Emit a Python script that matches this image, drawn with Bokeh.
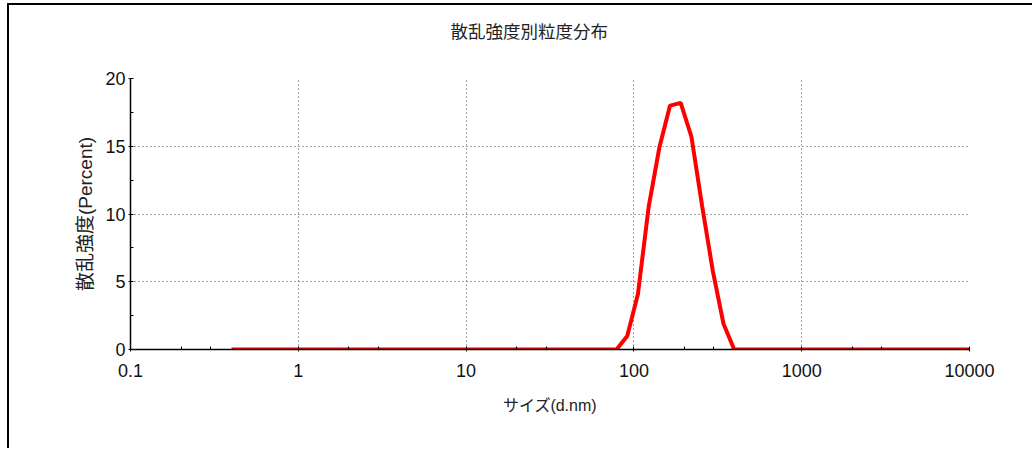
from bokeh.plotting import figure
from bokeh.models import FixedTicker, Range1d, Title
from bokeh.embed import file_html
from bokeh.resources import INLINE

# Zetasizer size bins (d.nm)
sizes = [0.4, 0.4632, 0.5365, 0.6213, 0.7195, 0.8332, 0.9649, 1.117, 1.294, 1.499,
         1.736, 2.010, 2.328, 2.696, 3.122, 3.615, 4.187, 4.849, 5.615, 6.503,
         7.531, 8.721, 10.10, 11.70, 13.54, 15.69, 18.17, 21.04, 24.36, 28.21,
         32.67, 37.84, 43.82, 50.75, 58.77, 68.06, 78.82, 91.28, 105.7, 122.4,
         141.8, 164.2, 190.1, 220.2, 255.0, 295.3, 342.0, 396.1, 458.7, 531.2,
         615.1, 712.4, 825.0, 955.4, 1106, 1281, 1484, 1718, 1990, 2305,
         2669, 3091, 3580, 4145, 4801, 5560, 6439, 7456, 8635, 10000]
# Intensity (Percent)
intensity = [0, 0, 0, 0, 0, 0, 0, 0, 0, 0,
             0, 0, 0, 0, 0, 0, 0, 0, 0, 0,
             0, 0, 0, 0, 0, 0, 0, 0, 0, 0,
             0, 0, 0, 0, 0, 0, 0, 1.0, 4.1, 10.5,
             14.9, 18.0, 18.2, 15.7, 10.6, 5.8, 1.9, 0, 0, 0,
             0, 0, 0, 0, 0, 0, 0, 0, 0, 0,
             0, 0, 0, 0, 0, 0, 0, 0, 0, 0]

x_major = [0.1, 1, 10, 100, 1000, 10000]
x_minor = [0.2, 0.3, 2, 3, 20, 30, 200, 300, 2000, 3000]
y_major = [0, 5, 10, 15, 20]
y_minor = [2.5, 7.5, 12.5, 17.5]

title_text = "散乱強度別粒度分布"
x_label = "サイズ(d.nm)"
y_label = "散乱強度(Percent)"

MIXED = "'Liberation Sans', 'Noto Sans CJK JP'"

p = figure(width=1025, height=445, x_axis_type="log",
           x_range=Range1d(0.1, 10000), y_range=Range1d(0, 20),
           output_backend="svg", toolbar_location=None,
           min_border_left=121, min_border_right=65,
           min_border_top=73, min_border_bottom=101,
           title=title_text)
p.styles = {"border-top": "2px solid black", "border-left": "2px solid black",
            "position": "relative", "top": "3px", "left": "7px"}

# real title (outer), blank spacer title added later sits next to the frame
p.title.align = "left"
p.title.offset = 320
p.title.standoff = 0
p.title.text_font = "Noto Sans CJK JP"
p.title.text_font_size = "17.5px"
p.title.text_font_style = "normal"
p.title.text_color = "#222222"
p.add_layout(Title(text=" ", standoff=19, text_font="Noto Sans CJK JP",
                   text_font_size="10px"), "above")

p.outline_line_color = None
p.background_fill_color = "white"
p.border_fill_color = "white"

p.line(sizes, intensity, line_color="#ff0000", line_width=4)

# axes
p.xaxis.ticker = FixedTicker(ticks=x_major, minor_ticks=x_minor)
p.yaxis.ticker = FixedTicker(ticks=y_major, minor_ticks=y_minor)
p.xaxis.major_label_overrides = {0.1: "0.1", 1: "1", 10: "10", 100: "100", 1000: "1000", 10000: "10000"}

for ax in (p.xaxis[0], p.yaxis[0]):
    ax.axis_line_color = "black"
    ax.axis_line_width = 1.5
    ax.major_tick_line_color = "black"
    ax.minor_tick_line_color = "black"
    ax.major_tick_in = 3
    ax.major_tick_out = 2
    ax.minor_tick_in = 3
    ax.minor_tick_out = 0
    ax.major_label_text_font = "Liberation Sans"
    ax.major_label_text_font_size = "18px"
    ax.major_label_text_color = "#111111"
    ax.axis_label_text_font_style = "normal"
    ax.axis_label_text_color = "#222222"

p.xaxis.major_label_standoff = 12
p.xaxis.axis_label = x_label
p.xaxis.axis_label_text_font = MIXED
p.xaxis.axis_label_text_font_size = "16px"
p.xaxis.axis_label_standoff = 17

p.yaxis.major_label_standoff = 3
p.yaxis.axis_label = y_label
p.yaxis.axis_label_text_font = MIXED
p.yaxis.axis_label_text_font_size = "19px"
p.yaxis.axis_label_standoff = 6

# dotted grid
p.xgrid.grid_line_color = "#444444"
p.xgrid.grid_line_dash = "1 3"
p.xgrid.grid_line_width = 1
p.ygrid.grid_line_color = "#444444"
p.ygrid.grid_line_dash = "1 3"
p.ygrid.grid_line_width = 1
p.xgrid.ticker = FixedTicker(ticks=x_major)
p.ygrid.ticker = FixedTicker(ticks=y_major)

open("out.html", "w").write(file_html(p, INLINE))
